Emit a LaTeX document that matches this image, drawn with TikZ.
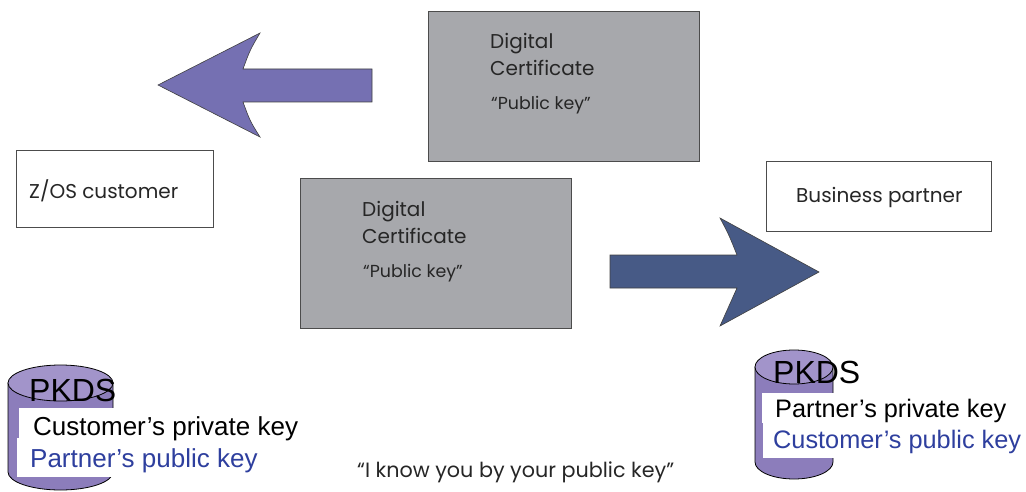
\documentclass[tikz,border=0pt]{standalone}
\usepackage{fontspec}
\setmainfont{Liberation Sans}
\newfontfamily\gothic{Poppins}
\definecolor{certgray}{HTML}{A7A8AC}
\definecolor{leftarrow}{HTML}{7570B2}
\definecolor{rightarrow}{HTML}{475A86}
\definecolor{cylside}{HTML}{8C7DBB}
\definecolor{cyltop}{HTML}{A294CA}
\definecolor{keyblue}{HTML}{2E3F9E}
\begin{document}
\begin{tikzpicture}[x=1pt,y=-1pt,
  certbox/.style={draw=black!70,fill=certgray,line width=0.8pt,anchor=north west,minimum width=271pt,minimum height=150pt,inner sep=0pt},
  partybox/.style={draw=black!70,fill=white,line width=0.8pt,anchor=north west,inner sep=0pt},
  gtitle/.style={font=\gothic\fontsize{20}{24}\selectfont,anchor=base west,inner sep=0pt,text=black!85},
  gsmall/.style={font=\gothic\fontsize{17.4}{20}\selectfont,anchor=base west,inner sep=0pt,text=black!85},
  glabel/.style={font=\gothic\fontsize{#1}{24}\selectfont,anchor=base west,inner sep=0pt,text=black!85},
  glabel/.default=20,
  pkds/.style={font=\fontsize{32}{36}\selectfont,anchor=base west,inner sep=0pt},
  keytext/.style={font=\fontsize{#1}{28}\selectfont,anchor=base west,inner sep=0pt},
  keytext/.default=26,
  whitepatch/.style={fill=white,anchor=north west,inner sep=0pt}
]
\useasboundingbox (0,0) rectangle (1026,492);
% arrows
\fill[leftarrow,draw=black!75,line width=0.6pt] (158,85) -- (260,33) .. controls (250,50) .. (243,69) -- (372,69) -- (372,102) -- (243,102) .. controls (250,121) .. (260,137) -- cycle;
\fill[rightarrow,draw=black!75,line width=0.6pt] (610,255) -- (737,255) .. controls (729,235) .. (720,218) -- (819,272) -- (720,326) .. controls (729,307) .. (737,288) -- (610,288) -- cycle;
% certificate boxes
\node[certbox] (cert1) at (428,11) {};
\node[gtitle] (c1a) at (490,49) {Digital};
\node[gtitle] (c1b) at (490,76) {Certificate};
\node[gsmall] (c1c) at (491,110) {“Public key”};
\node[certbox] (cert2) at (300,178) {};
\node[gtitle] (c2a) at (362,216) {Digital};
\node[gtitle] (c2b) at (362,243) {Certificate};
\node[gsmall] (c2c) at (363,277) {“Public key”};
% parties
\node[partybox,minimum width=197pt,minimum height=77pt] (zos) at (16,150) {};
\node[glabel] (zost) at (29,198) {Z/OS customer};
\node[partybox,minimum width=225pt,minimum height=70pt] (bp) at (766,161) {};
\node[glabel] (bpt) at (796,203) {Business partner};
% left cylinder
\fill[cylside,draw=black,line width=0.8pt] (8,383) -- (8,472) arc[start angle=180,end angle=360,x radius=52.5,y radius=-18] -- (113,383) -- cycle;
\fill[cyltop,draw=black,line width=0.8pt] (60.5,383) ellipse[x radius=52.5,y radius=18];
\node[pkds] (pk1) at (29,401) {PKDS};
\node[whitepatch,minimum width=120pt,minimum height=30pt] (w1a) at (19,408) {};
\node[whitepatch,minimum width=120pt,minimum height=39pt] (w1b) at (17,438) {};
\node[keytext] (k1b) at (33,435) {Customer’s private key};
\node[keytext,text=keyblue] (k1c) at (30,467) {Partner’s public key};
% right cylinder
\fill[cylside,draw=black,line width=0.8pt] (755,367) -- (755,462) arc[start angle=180,end angle=360,x radius=39,y radius=-17] -- (833,367) -- cycle;
\fill[cyltop,draw=black,line width=0.8pt] (794,367) ellipse[x radius=39,y radius=17];
\node[pkds] (pk2) at (773,383) {PKDS};
\node[whitepatch,minimum width=90pt,minimum height=30pt] (w2a) at (762,393) {};
\node[whitepatch,minimum width=90pt,minimum height=35pt] (w2b) at (763,423) {};
\node[keytext=25.3] (k2a) at (775,417) {Partner’s private key};
\node[keytext=25.3,text=keyblue] (k2b) at (773,448) {Customer’s public key};
% bottom quote
\node[glabel=20.7] (quote) at (357,477) {“I know you by your public key”};
\end{tikzpicture}
\end{document}
